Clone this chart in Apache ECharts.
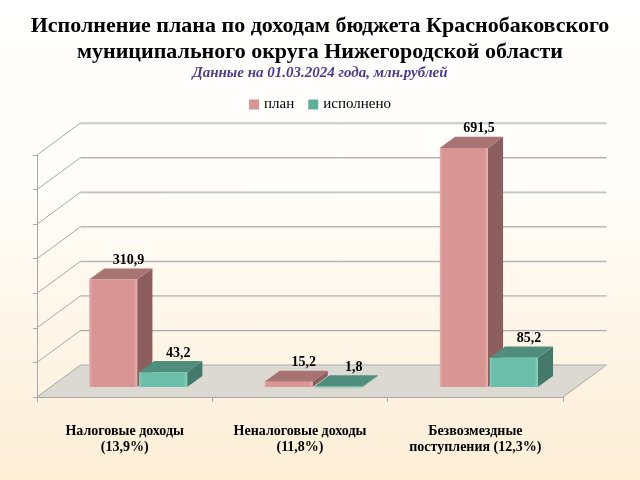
<!DOCTYPE html>
<html>
<head>
<meta charset="utf-8">
<title>Исполнение плана по доходам</title>
<script src="https://cdn.jsdelivr.net/npm/echarts@6/dist/echarts.min.js"></script>
<style>
  html, body { margin: 0; padding: 0; }
  #main { width: 640px; height: 480px; }
</style>
</head>
<body>
<div id="main"></div>
<script>
// данные с картинки
var categories = ['Налоговые доходы\n(13,9%)', 'Неналоговые доходы\n(11,8%)', 'Безвозмездные\nпоступления (12,3%)']
var planValues = [310.9, 15.2, 691.5]
var doneValues = [43.2, 1.8, 85.2]
var yTicks = [0, 100, 200, 300, 400, 500, 600, 700]

var serif = 'Liberation Serif'
var depth = [43.5, -32]      // глубина пола / стенки
var barShift = 0.31          // где стоит передняя грань столбцов
var barDepth = 0.35          // толщина столбца
var barW = 0.274             // ширина столбца в долях категории
var barGap = 0.011

var fmt = function(v) {
    return String(v.toFixed(1)).replace('.', ',')
}

// рамка: пол, левая и задняя стенки
var renderFrame = function(params, api) {
    var v = api.value(0)
    var w = api.size([1, 0])[0]
    var p = api.coord([0, v])
    var xl = p[0] - w / 2
    var xr = api.coord([categories.length - 1, v])[0] + w / 2
    var y = p[1]
    var line = {stroke: '#a8a8a8', lineWidth: 1}
    var kids = []
    if (params.dataIndex === 0) {
        kids.push({
            type: 'polygon',
            shape: {points: [[xl, y], [xr, y], [xr + depth[0], y + depth[1]], [xl + depth[0], y + depth[1]]]},
            style: {fill: '#dcd9d3'}
        })
        kids.push({
            type: 'line',
            shape: {x1: xr, y1: y, x2: xr + depth[0], y2: y + depth[1]},
            style: line
        })
    }
    kids.push({
        type: 'line',
        shape: {x1: xl, y1: y, x2: xl + depth[0], y2: y + depth[1]},
        style: line
    })
    kids.push({
        type: 'line',
        shape: {x1: xl + depth[0], y1: y + depth[1] + 1, x2: xr + depth[0], y2: y + depth[1] + 1},
        style: {stroke: '#e2e2e2', lineWidth: 1}
    })
    kids.push({
        type: 'line',
        shape: {x1: xl + depth[0], y1: y + depth[1], x2: xr + depth[0], y2: y + depth[1]},
        style: line
    })
    return {type: 'group', children: kids}
}

var makeBarRender = function(side, colors) {
    return function(params, api) {
        var idx = api.value(0)
        var val = api.value(1)
        var w = api.size([1, 0])[0]
        var top = api.coord([idx, val])
        var base = api.coord([idx, 0])
        var ox = depth[0] * barShift
        var oy = depth[1] * barShift
        var dx = depth[0] * barDepth
        var dy = depth[1] * barDepth
        var bw = w * barW
        var x0 = side === 0 ? base[0] - bw - w * barGap / 2 : base[0] + w * barGap / 2
        x0 += ox
        var x1 = x0 + bw
        var yb = base[1] + oy
        var yt = top[1] + oy
        var kids = [
            {
                type: 'polygon',
                shape: {points: [[x1, yb], [x1 + dx, yb + dy], [x1 + dx, yt + dy], [x1, yt]]},
                style: {fill: colors.side}
            },
            {
                type: 'polygon',
                shape: {points: [[x0, yt], [x1, yt], [x1 + dx, yt + dy], [x0 + dx, yt + dy]]},
                style: {fill: colors.top}
            },
            {
                type: 'rect',
                shape: {x: x0, y: yt, width: bw, height: Math.max(yb - yt, 1)},
                style: {
                    fill: {
                        type: 'linear', x: 0, y: 0, x2: 1, y2: 0,
                        colorStops: [
                            {offset: 0, color: colors.edge},
                            {offset: 0.06, color: colors.front},
                            {offset: 0.92, color: colors.front},
                            {offset: 1, color: colors.edge}
                        ]
                    }
                }
            },
            {
                type: 'text',
                style: {
                    x: (x0 + x1) / 2 + dx, y: yt + dy - 8,
                    text: fmt(val),
                    fill: '#000',
                    font: 'bold 14px "' + serif + '"',
                    align: 'center', verticalAlign: 'middle'
                }
            }
        ]
        return {type: 'group', children: kids}
    }
}

var toPairs = function(arr) {
    var r = []
    for (var i = 0; i < arr.length; i++) {
        r.push([i, arr[i]])
    }
    return r
}

var chart = echarts.init(document.getElementById('main'))

var option = {
    backgroundColor: {
        type: 'linear', x: 0, y: 0, x2: 0, y2: 1,
        colorStops: [
            {offset: 0, color: '#ffffff'},
            {offset: 0.4, color: '#fffdf9'},
            {offset: 1, color: '#fdeed6'}
        ]
    },
    animation: false,
    title: [
        {
            text: 'Исполнение плана по доходам бюджета Краснобаковского\nмуниципального округа Нижегородской области',
            left: 'center', top: 8,
            textStyle: {fontFamily: serif, fontWeight: 'bold', fontSize: 22, lineHeight: 26, color: '#000'}
        },
        {
            text: 'Данные на 01.03.2024 года, млн.рублей',
            left: 'center', top: 61,
            textStyle: {fontFamily: serif, fontWeight: 'bold', fontStyle: 'italic', fontSize: 15, color: '#4a3b8c'}
        }
    ],
    legend: {
        top: 92,
        left: 'center',
        icon: 'rect',
        itemWidth: 10,
        itemHeight: 10,
        itemGap: 14,
        textStyle: {fontFamily: serif, fontSize: 15, color: '#000'},
        data: ['план', 'исполнено']
    },
    grid: {left: 37, top: 155, width: 526, height: 242},
    xAxis: {
        type: 'category',
        data: categories,
        axisLine: {lineStyle: {color: '#a8a8a8'}},
        axisTick: {show: true, length: 5, lineStyle: {color: '#a8a8a8'}},
        axisLabel: {
            margin: 26,
            fontFamily: serif, fontWeight: 'bold', fontSize: 14, lineHeight: 16, color: '#000'
        }
    },
    yAxis: {
        type: 'value',
        min: yTicks[0], max: yTicks[yTicks.length - 1], interval: yTicks[1] - yTicks[0],
        axisLine: {show: true, lineStyle: {color: '#a8a8a8'}},
        axisTick: {show: true, length: 4, lineStyle: {color: '#a8a8a8'}},
        axisLabel: {show: false},
        splitLine: {show: false}
    },
    series: [
        {
            type: 'custom',
            name: 'frame',
            renderItem: renderFrame,
            data: yTicks.map(function(v) { return [v] }),
            encode: {y: 0},
            silent: true,
            z: 1
        },
        {
            type: 'custom',
            name: 'план',
            itemStyle: {color: '#d99594'},
            renderItem: makeBarRender(0, {front: '#d99594', edge: '#e8aeac', side: '#8c5f5e', top: '#a87473'}),
            data: toPairs(planValues),
            encode: {x: 0, y: 1},
            z: 2
        },
        {
            type: 'custom',
            name: 'исполнено',
            itemStyle: {color: '#5fae9a'},
            renderItem: makeBarRender(1, {front: '#6bbfaa', edge: '#82d0bc', side: '#437a6b', top: '#4f8e7d'}),
            data: toPairs(doneValues),
            encode: {x: 0, y: 1},
            z: 2
        }
    ]
}

chart.setOption(option)
</script>
</body>
</html>
